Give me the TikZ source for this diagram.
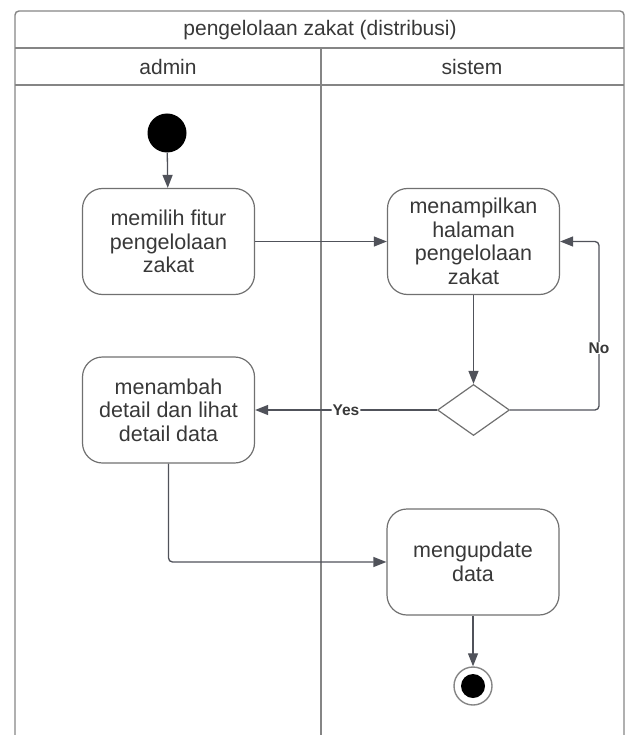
\documentclass[tikz,border=0pt]{standalone}
\usepackage{fontspec}
\setmainfont{Liberation Sans}
\usetikzlibrary{arrows.meta,shapes.geometric}
\definecolor{framegray}{HTML}{858585}
\definecolor{boxgray}{HTML}{707070}
\definecolor{flowgray}{HTML}{50525A}
\definecolor{textgray}{HTML}{383838}

\begin{document}
\begin{tikzpicture}[x=1pt,y=-1pt,
  lane/.style={draw=framegray,line width=1.4pt},
  heading/.style={text=textgray,font=\fontsize{21}{24}\selectfont},
  action/.style={draw=boxgray,line width=1.2pt,rounded corners=20pt,
    minimum width=172pt,minimum height=106pt,align=center,inner sep=0pt,
    text=textgray,font=\fontsize{21.5}{23.5}\selectfont},
  decision/.style={diamond,draw=boxgray,line width=1.2pt,aspect=1.41,
    minimum width=72pt,minimum height=51pt,inner sep=0pt},
  flow/.style={draw=flowgray,line width=1.3pt,rounded corners=4pt,
    -{Triangle[length=13pt,width=10pt]}},
  guard/.style={font=\fontsize{15.5}{18}\selectfont\bfseries,text=textgray,
    fill=white,inner sep=1pt}]

\useasboundingbox (0,0) rectangle (629,735);

% swimlane frame
\draw[lane,rounded corners=4pt] (15,735) -- (15,11) -- (624,11) -- (624,735);
\draw[lane] (15,48) -- (624,48);
\draw[lane] (15,85) -- (624,85);
\draw[lane] (321,48) -- (321,735);

\node[heading] (title) at (320,30) {pengelolaan zakat (distribusi)};
\node[heading] (adminlane) at (168,67) {admin};
\node[heading] (sistemlane) at (472,67) {sistem};

% activities
\node[circle,fill=black,minimum size=39pt,inner sep=0pt] (start) at (167,133) {};
\node[action] (pilih) at (168.5,241.5) {memilih fitur\\pengelolaan\\zakat};
\node[action] (tampil) at (473.5,241.5) {menampilkan\\halaman\\pengelolaan\\zakat};
\node[decision] (cek) at (473.5,410) {};
\node[action] (tambah) at (168.5,410) {menambah\\detail dan lihat\\detail data};
\node[action] (update) at (473,562) {mengupdate\\data};
\node[circle,draw=framegray,line width=1.4pt,minimum size=38pt,inner sep=0pt] (end) at (473,686) {};
\fill[black] (end.center) circle (12pt);

\coordinate (noturn) at (599,410);

% control flow
\draw[flow] (start) -- (pilih);
\draw[flow] (pilih.east) -- (tampil.west);
\draw[flow] (tampil.south) -- (cek.north);
\draw[flow] (cek.west) -- node[guard] (yeslabel) {Yes} (tambah.east);
\draw[flow] (cek.east) -- (noturn) |- (tampil.east);
\node[guard] (nolabel) at (599,348) {No};
\draw[flow] (tambah.south) |- (update.west);
\draw[flow] (update.south) -- (end.north);

\end{tikzpicture}
\end{document}
